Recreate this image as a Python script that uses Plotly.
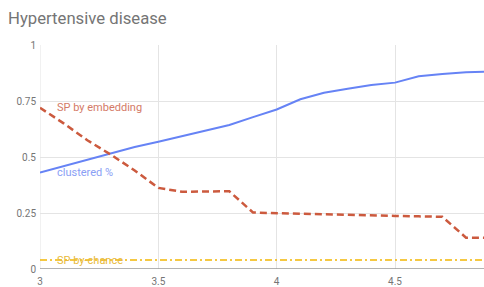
import plotly.graph_objects as go

x_vals = [3.0, 3.1, 3.2, 3.3, 3.4, 3.5, 3.6, 3.7, 3.8, 3.9, 4.0, 4.1, 4.2, 4.3, 4.4, 4.5, 4.6, 4.7, 4.8, 4.9]
clustered_pct = [0.431, 0.460, 0.488, 0.516, 0.545, 0.568, 0.592, 0.617, 0.643, 0.678, 0.712, 0.758, 0.787, 0.805, 0.821, 0.832, 0.860, 0.870, 0.878, 0.882]
sp_embedding = [0.72, 0.65, 0.575, 0.51, 0.44, 0.362, 0.345, 0.346, 0.347, 0.252, 0.249, 0.246, 0.243, 0.241, 0.239, 0.237, 0.235, 0.233, 0.14, 0.14]
sp_chance = [0.04] * len(x_vals)

series_names = ["clustered %", "SP by embedding", "SP by-chance"]
x_ticks = [3, 3.5, 4, 4.5]
x_tick_text = ["3", "3.5", "4", "4.5"]
y_ticks = [0, 0.25, 0.5, 0.75, 1]
y_tick_text = ["0", "0.25", "0.5", "0.75", "1"]
title_text = "Hypertensive disease"

BLUE = "#6683f5"
RED = "#cc5a3e"
YELLOW = "#f2b705"

fig = go.Figure()
fig.add_trace(go.Scatter(x=x_vals, y=clustered_pct, mode="lines", name=series_names[0],
                         line=dict(color=BLUE, width=2), hoverinfo="skip"))
fig.add_trace(go.Scatter(x=x_vals, y=sp_embedding, mode="lines", name=series_names[1],
                         line=dict(color=RED, width=2.5, dash="7px,4px"), hoverinfo="skip"))
fig.add_trace(go.Scatter(x=x_vals, y=sp_chance, mode="lines", name=series_names[2],
                         line=dict(color=YELLOW, width=1.5, dash="7px,3px,2px,3px"), hoverinfo="skip"))

label_font = "Roboto, Arial, sans-serif"
fig.add_annotation(x=x_vals[0], y=sp_embedding[0], text=series_names[1], xref="x", yref="y",
                   showarrow=False, xanchor="left", yanchor="middle", xshift=15,
                   font=dict(family=label_font, size=11, color="#d47a66"))
fig.add_annotation(x=x_vals[0], y=clustered_pct[0], text=series_names[0], xref="x", yref="y",
                   showarrow=False, xanchor="left", yanchor="middle", xshift=15,
                   font=dict(family=label_font, size=11, color="#8aa0f5"))
fig.add_annotation(x=x_vals[0], y=sp_chance[0], text=series_names[2], xref="x", yref="y",
                   showarrow=False, xanchor="left", yanchor="middle", xshift=15,
                   font=dict(family=label_font, size=11, color="#e8b93a"))

fig.update_layout(
    width=484, height=287,
    margin=dict(l=40, r=0, t=45, b=18, autoexpand=False),
    paper_bgcolor="white", plot_bgcolor="white",
    showlegend=False,
    title=dict(text=title_text, x=8 / 484, xanchor="left", xref="container",
               y=1 - 18 / 287, yanchor="middle", yref="container",
               font=dict(family=label_font, size=16.7, color="#757575")),
    xaxis=dict(range=[3, 4.876], tickvals=x_ticks, ticktext=x_tick_text, automargin=False,
               showgrid=True, gridcolor="#e4e4e4", gridwidth=1, zeroline=False,
               showline=False, ticks="", ticklabelstandoff=5,
               tickfont=dict(family=label_font, size=10, color="#757575"),
               fixedrange=True),
    yaxis=dict(range=[0, 1], tickvals=y_ticks, ticktext=y_tick_text, automargin=False,
               showgrid=True, gridcolor="#e4e4e4", gridwidth=1, zeroline=False,
               showline=False, ticks="", ticklabelstandoff=3,
               tickfont=dict(family=label_font, size=10, color="#757575"),
               fixedrange=True),
)
# baseline at y = 0 and left grid edge
fig.add_shape(type="line", xref="paper", yref="y", x0=0, x1=1, y0=0, y1=0,
              line=dict(color="#9a9a9a", width=1.5), layer="above")
fig.add_shape(type="line", xref="x", yref="paper", x0=3, x1=3, y0=0, y1=1,
              line=dict(color="#e4e4e4", width=1), layer="below")

fig.write_html("out.html", config={"displayModeBar": False},
               post_script="document.body.style.margin='0px';")
